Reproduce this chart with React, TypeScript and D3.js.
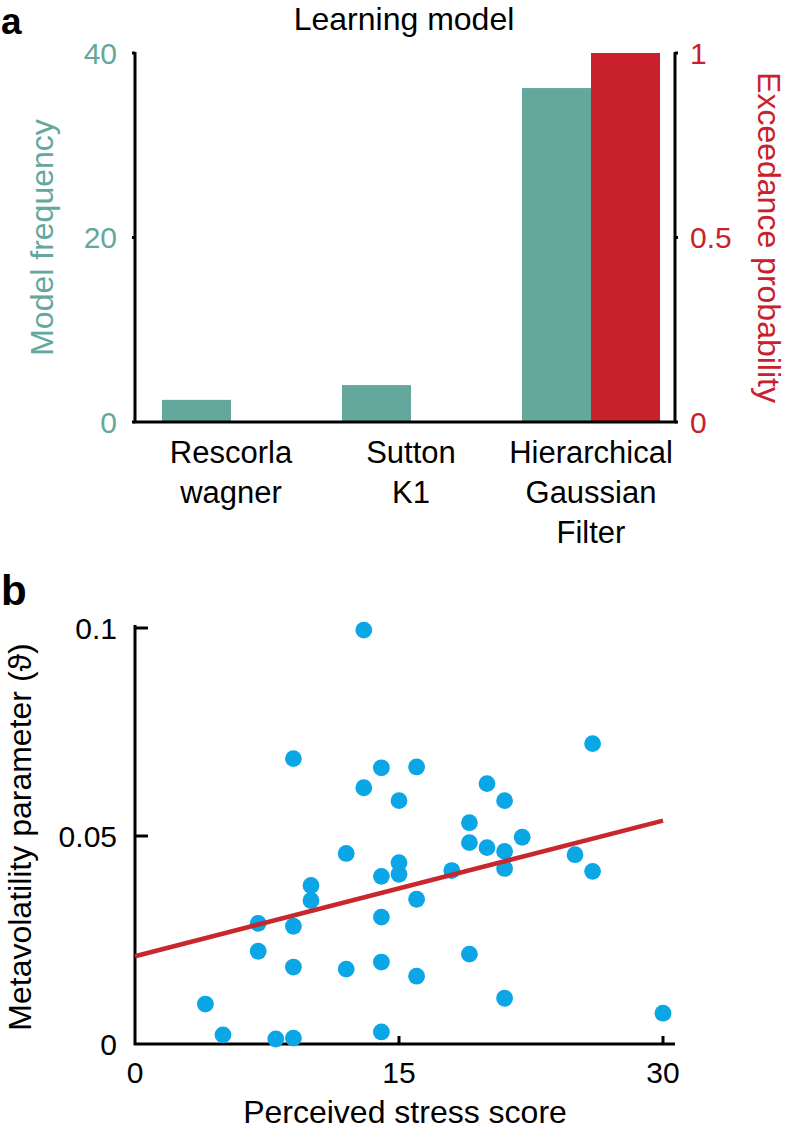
import React, { useRef, useEffect } from 'react';
import * as d3 from 'd3';

const W = 786;
const H = 1132;
const FONT = '"Liberation Sans", Arial, Helvetica, sans-serif';

const TEAL = '#64a89d';
const RED = '#c9212b';
const BLUE = '#0aa6e6';

// Panel a: model comparison
const models = ['Rescorla\nwagner', 'Sutton\nK1', 'Hierarchical\nGaussian\nFilter'];
const modelFrequency = [2.4, 4.0, 36.2];
const exceedanceProb = [0, 0, 1];
const freqTicks = [0, 20, 40];
const probTicks = [0, 0.5, 1];

// Panel b: stress vs metavolatility
const stressScore = [13, 9, 14, 16, 13, 15, 26, 20, 21, 19, 19, 20, 21, 22, 21, 18, 25, 26, 12, 15, 15, 14, 10, 10, 16, 14, 7, 9, 7, 9, 12, 14, 16, 4, 5, 8, 9, 14, 19, 21, 30];
const metavolatility = [0.0995, 0.0686, 0.0664, 0.0666, 0.0616, 0.0585, 0.0722, 0.0626, 0.0585, 0.0532, 0.0484, 0.0472, 0.0463, 0.0497, 0.0422, 0.0417, 0.0455, 0.0415, 0.0458, 0.0436, 0.0408, 0.0403, 0.0381, 0.0345, 0.0348, 0.0305, 0.029, 0.0283, 0.0223, 0.0185, 0.018, 0.0197, 0.0163, 0.0096, 0.0022, 0.0012, 0.0014, 0.0029, 0.0216, 0.011, 0.0074];
const fitX = [0, 30];
const fitY = [0.0211, 0.0537];
const stressTicks = [0, 15, 30];
const metaTicks = [0, 0.05, 0.1];

const App = () => {
  const ref = useRef<SVGSVGElement>(null);

  useEffect(() => {
    const svg = d3.select(ref.current);
    svg.selectAll('*').remove();
    svg.attr('font-family', FONT);

    // ---------- panel a ----------
    const left = 135, right = 675, base = 422, top = 53;
    const x0 = d3.scaleBand().domain(models).range([141, 681]).paddingInner(42 / 180).paddingOuter(21 / 180);
    const x1 = d3.scaleBand().domain(['freq', 'prob']).range([0, x0.bandwidth()]);
    const yFreq = d3.scaleLinear().domain([0, 40]).range([base, top]);
    const yProb = d3.scaleLinear().domain([0, 1]).range([base, top]);

    const a = svg.append('g');

    a.selectAll('rect.freq').data(models).enter().append('rect')
      .attr('x', d => x0(d)! + x1('freq')!)
      .attr('y', (d, i) => yFreq(modelFrequency[i]))
      .attr('width', x1.bandwidth())
      .attr('height', (d, i) => base - yFreq(modelFrequency[i]))
      .attr('fill', TEAL);

    a.selectAll('rect.prob').data(models).enter().append('rect')
      .attr('x', d => x0(d)! + x1('prob')!)
      .attr('y', (d, i) => yProb(exceedanceProb[i]))
      .attr('width', x1.bandwidth())
      .attr('height', (d, i) => base - yProb(exceedanceProb[i]))
      .attr('fill', RED);

    // axes
    a.append('path')
      .attr('d', `M${left},${top - 1}V${base}H${right}V${top - 1}`)
      .attr('fill', 'none').attr('stroke', '#000').attr('stroke-width', 3);

    freqTicks.forEach(t => {
      a.append('line').attr('x1', left).attr('x2', left - 3)
        .attr('y1', yFreq(t)).attr('y2', yFreq(t)).attr('stroke', '#000').attr('stroke-width', 3);
      a.append('text').attr('x', 117).attr('y', yFreq(t)).attr('dy', '0.36em')
        .attr('text-anchor', 'end').attr('font-size', 30).attr('fill', TEAL).text(t);
    });
    probTicks.forEach(t => {
      a.append('line').attr('x1', right).attr('x2', right + 3)
        .attr('y1', yProb(t)).attr('y2', yProb(t)).attr('stroke', '#000').attr('stroke-width', 3);
      a.append('text').attr('x', 690).attr('y', yProb(t)).attr('dy', '0.36em')
        .attr('text-anchor', 'start').attr('font-size', 30).attr('fill', RED).text(t);
    });

    // category labels
    models.forEach(m => {
      const t = a.append('text').attr('text-anchor', 'middle').attr('font-size', 31).attr('fill', '#000');
      m.split('\n').forEach((line, i) => {
        t.append('tspan').attr('x', x0(m)! + x0.bandwidth() / 2).attr('y', 463 + i * 40).text(line);
      });
    });

    a.append('text').attr('x', 404).attr('y', 30).attr('text-anchor', 'middle')
      .attr('font-size', 32).text('Learning model');

    a.append('text').attr('transform', `translate(53,${(base + top) / 2}) rotate(-90)`)
      .attr('text-anchor', 'middle').attr('font-size', 32).attr('fill', TEAL).text('Model frequency');
    a.append('text').attr('transform', `translate(758,${(base + top) / 2}) rotate(90)`)
      .attr('text-anchor', 'middle').attr('font-size', 32).attr('fill', RED).text('Exceedance probability');

    a.append('text').attr('x', 1).attr('y', 34).attr('font-size', 37).attr('font-weight', 'bold').text('a');

    // ---------- panel b ----------
    const bLeft = 135, bBase = 1044;
    const xS = d3.scaleLinear().domain([0, 30]).range([135, 663]);
    const yM = d3.scaleLinear().domain([0, 0.1]).range([1044, 628]);
    const b = svg.append('g');

    b.append('path')
      .attr('d', `M${bLeft},625V${bBase}H675`)
      .attr('fill', 'none').attr('stroke', '#000').attr('stroke-width', 3);

    metaTicks.forEach(t => {
      if (t > 0) {
        b.append('line').attr('x1', bLeft).attr('x2', bLeft + 13)
          .attr('y1', yM(t)).attr('y2', yM(t)).attr('stroke', '#000').attr('stroke-width', 3);
      }
      b.append('text').attr('x', 117).attr('y', yM(t)).attr('dy', '0.36em')
        .attr('text-anchor', 'end').attr('font-size', 30).text(t);
    });
    stressTicks.forEach(t => {
      if (t > 0) {
        b.append('line').attr('x1', xS(t)).attr('x2', xS(t))
          .attr('y1', bBase).attr('y2', bBase - 8).attr('stroke', '#000').attr('stroke-width', 3);
      }
      b.append('text').attr('x', xS(t)).attr('y', 1083)
        .attr('text-anchor', 'middle').attr('font-size', 30).text(t);
    });

    b.selectAll('circle').data(stressScore).enter().append('circle')
      .attr('cx', d => xS(d))
      .attr('cy', (d, i) => yM(metavolatility[i]))
      .attr('r', 8.4)
      .attr('fill', BLUE);

    const line = d3.line<number>().x(d => xS(d)).y((d, i) => yM(fitY[i]));
    b.append('path').attr('d', line(fitX))
      .attr('fill', 'none').attr('stroke', '#c8272d').attr('stroke-width', 4.5);

    b.append('text').attr('x', 405).attr('y', 1123).attr('text-anchor', 'middle')
      .attr('font-size', 32).text('Perceived stress score');
    b.append('text').attr('transform', `translate(31,837) rotate(-90)`)
      .attr('text-anchor', 'middle').attr('font-size', 32).text('Metavolatility parameter (\u03D1)');

    b.append('text').attr('x', 1).attr('y', 605).attr('font-size', 42).attr('font-weight', 'bold').text('b');
  }, []);

  return (
    <svg ref={ref} width={W} height={H}
      style={{ position: 'absolute', left: 0, top: 0, background: '#fff' }} />
  );
};

export default App;
